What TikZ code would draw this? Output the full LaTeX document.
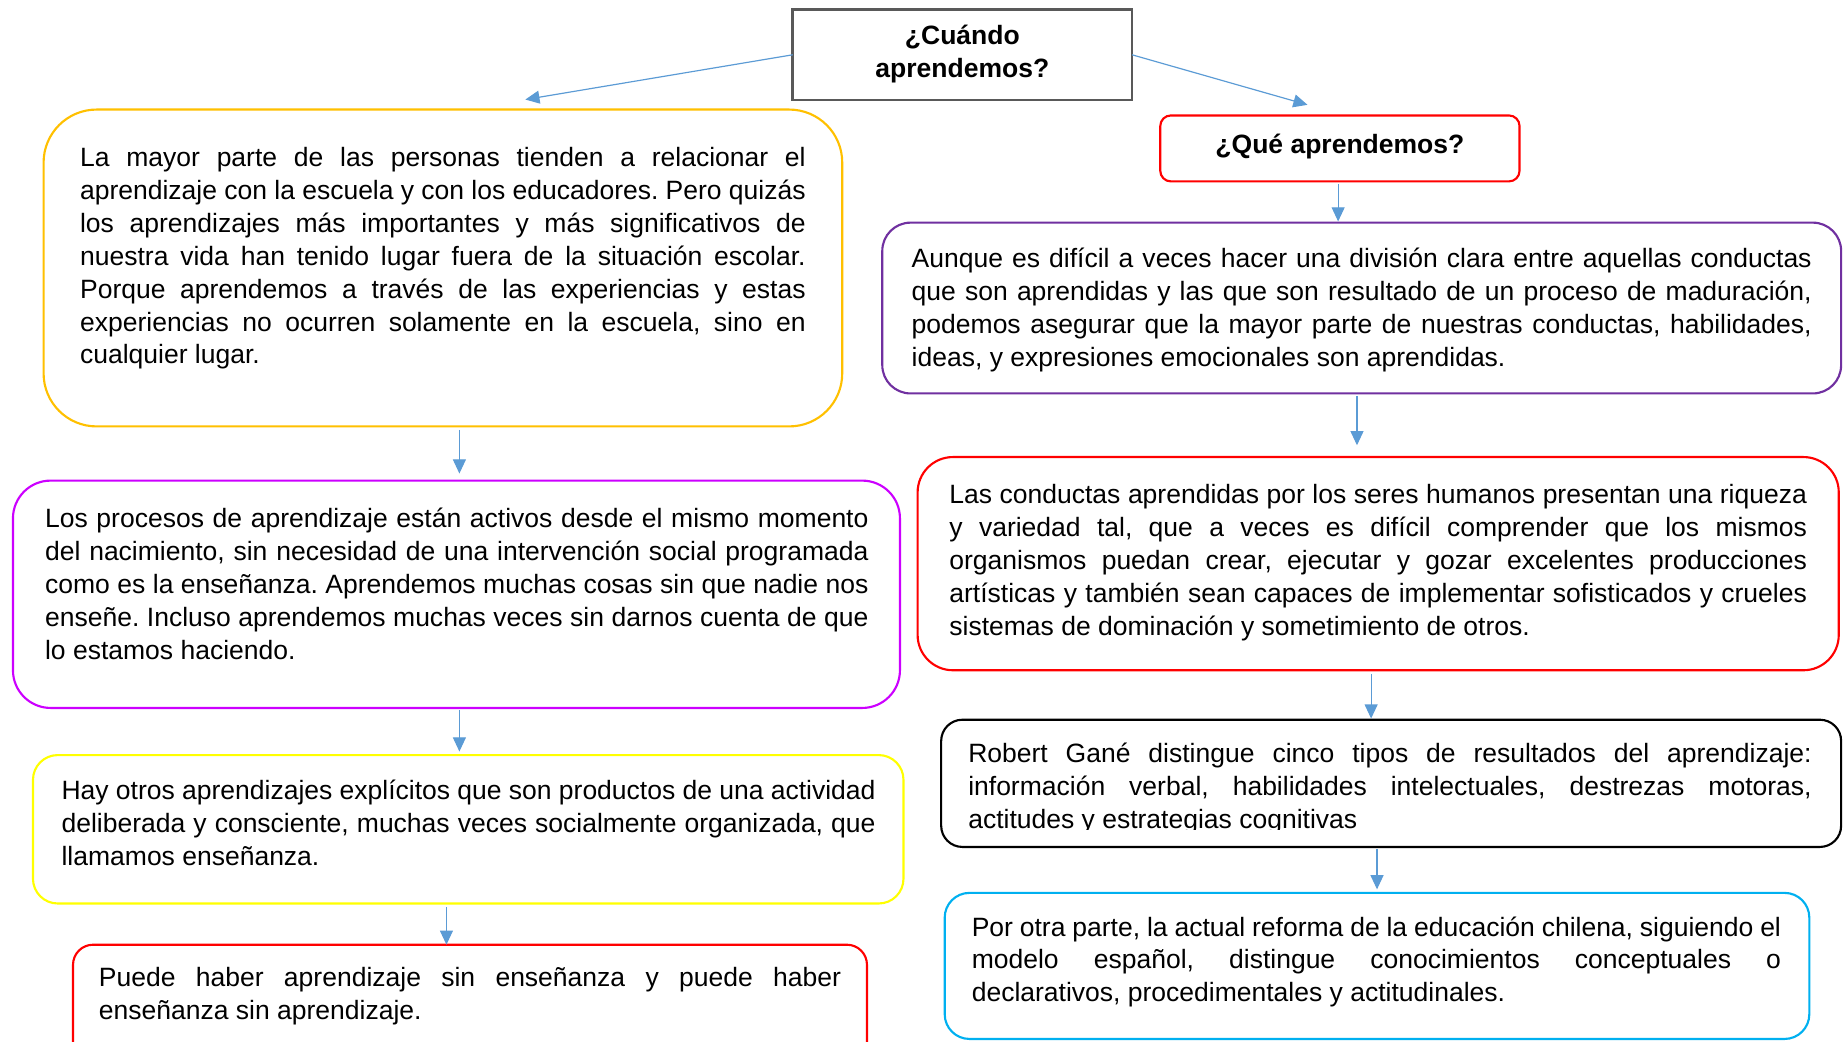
\documentclass[tikz,border=0pt]{standalone}
\usepackage{fontspec}
\setmainfont{Liberation Sans}
\usetikzlibrary{arrows.meta}
\definecolor{cgold}{HTML}{FFC000}
\definecolor{cmag}{HTML}{CC00FF}
\definecolor{cyel}{HTML}{FFFF00}
\definecolor{cred}{HTML}{FF0000}
\definecolor{cpur}{HTML}{7030A0}
\definecolor{ccyan}{HTML}{00B0F0}
\definecolor{cgray}{HTML}{595959}
\definecolor{arrowblue}{HTML}{5B9BD5}
\tolerance=10000
\pretolerance=-1
\hyphenpenalty=10000
\exhyphenpenalty=10000
\frenchspacing
\begin{document}
\begin{tikzpicture}[x=1pt,y=-1pt,
  box/.style={draw, line width=1.8pt, outer sep=0pt, inner sep=0pt},
  txt/.style={inner sep=0pt, outer sep=0pt, anchor=north west, align=justify,
              font=\frenchspacing\fontsize{22.5}{28}\selectfont},
  head/.style={inner sep=0pt, outer sep=0pt, font=\bfseries\fontsize{22.5}{28}\selectfont},
  arr/.style={draw=arrowblue, line width=1pt, -{Triangle[length=12pt,width=11pt]}}]
\clip (0,0) rectangle (1568,884);
\fill[white] (0,0) rectangle (1568,884);

% boxes
\node[box, draw=cgray, line width=2.2pt, minimum width=288pt, minimum height=77pt] (T) at (817,46.5) {};
\node[box, draw=cgold, rounded corners=45pt, minimum width=678pt, minimum height=269pt] (A) at (376,227.5) {};
\node[box, draw=cmag, rounded corners=32pt, minimum width=753pt, minimum height=193pt] (B) at (387.5,504.5) {};
\node[box, draw=cyel, rounded corners=21pt, minimum width=739pt, minimum height=126pt] (C) at (397.5,704) {};
\node[box, draw=cred, rounded corners=17pt, minimum width=674pt, minimum height=103pt] (D) at (399,853.5) {};
\node[box, draw=cred, rounded corners=9pt, minimum width=305pt, minimum height=56pt] (Q) at (1137.5,126) {};
\node[box, draw=cpur, rounded corners=24pt, minimum width=814pt, minimum height=145pt] (E) at (1156,261.5) {};
\node[box, draw=cred, rounded corners=30pt, minimum width=782pt, minimum height=181pt] (F) at (1170,478.5) {};
\node[box, draw=black, rounded corners=18pt, minimum width=764pt, minimum height=108pt] (G) at (1181,665) {};
\node[box, draw=ccyan, rounded corners=21pt, minimum width=734pt, minimum height=124pt] (H) at (1169,820) {};

% headings
\node[head, anchor=north, align=center] (Tt) at (817,18.4) {\strut ¿Cuándo\\aprendemos?};
\node[head, anchor=base] (Qt) at (1137.5,130.5) {¿Qué aprendemos?};

% texts
\node[txt, text width=616pt] (At) at (68,121.4) {\strut La mayor parte de las personas tienden a relacionar el\linebreak
aprendizaje con la escuela y con los educadores. Pero quizás\linebreak
los aprendizajes más importantes y más significativos de\linebreak
nuestra vida han tenido lugar fuera de la situación escolar.\linebreak
Porque aprendemos a través de las experiencias y estas\linebreak
experiencias no ocurren solamente en la escuela, sino en\linebreak
cualquier lugar.};

\node[txt, text width=699pt] (Bt) at (38.3,428) {\strut Los procesos de aprendizaje están activos desde el mismo momento\linebreak
del nacimiento, sin necesidad de una intervención social programada\linebreak
como es la enseñanza. Aprendemos muchas cosas sin que nadie nos\linebreak
enseñe. Incluso aprendemos muchas veces sin darnos cuenta de que\linebreak
lo estamos haciendo.};

\node[txt, text width=691pt] (Ct) at (52.3,659.4) {\strut Hay otros aprendizajes explícitos que son productos de una actividad\linebreak
deliberada y consciente, muchas veces socialmente organizada, que\linebreak
llamamos enseñanza.};

\node[txt, text width=630pt] (Dt) at (84,818) {\strut Puede haber aprendizaje sin enseñanza y puede haber\linebreak
enseñanza sin aprendizaje.};

\node[txt, text width=764pt] (Et) at (774,207.5) {\strut Aunque es difícil a veces hacer una división clara entre aquellas conductas\linebreak
que son aprendidas y las que son resultado de un proceso de maduración,\linebreak
podemos asegurar que la mayor parte de nuestras conductas, habilidades,\linebreak
ideas, y expresiones emocionales son aprendidas.};

\node[txt, text width=728pt] (Ft) at (806,408.2) {\strut Las conductas aprendidas por los seres humanos presentan una riqueza\linebreak
y variedad tal, que a veces es difícil comprender que los mismos\linebreak
organismos puedan crear, ejecutar y gozar excelentes producciones\linebreak
artísticas y también sean capaces de implementar sofisticados y crueles\linebreak
sistemas de dominación y sometimiento de otros.};

\begin{scope}
\clip (790,600) rectangle (1568,704);
\node[txt, text width=716pt] (Gt) at (822,627.5) {\strut Robert Gané distingue cinco tipos de resultados del aprendizaje:\linebreak
información verbal, habilidades intelectuales, destrezas motoras,\linebreak
actitudes y estrategias cognitivas};
\end{scope}

\node[txt, text width=687pt] (Ht) at (825,775) {\strut Por otra parte, la actual reforma de la educación chilena, siguiendo el\linebreak
modelo español, distingue conocimientos conceptuales o\linebreak
declarativos, procedimentales y actitudinales.};

% connectors
\coordinate (tipL) at (446,84.5);
\coordinate (tipR) at (1110,89);
\draw[arr] (T.west) -- (tipL);
\draw[arr] (T.east) -- (tipR);

\coordinate (xab) at (390,0);
\coordinate (xcd) at (379,0);
\coordinate (xqe) at (1136,0);
\coordinate (xef) at (1152,0);
\coordinate (xfg) at (1164,0);
\coordinate (xgh) at (1169,0);

\draw[arr, shorten <=3pt, shorten >=6pt] (A.south -| xab) -- (B.north -| xab);
\draw[arr, shorten <=2pt, shorten >=3pt] (B.south -| xab) -- (C.north -| xab);
\draw[arr, shorten <=3pt] (C.south -| xcd) -- (D.north -| xcd);
\draw[arr, shorten <=2pt, shorten >=1pt] (Q.south -| xqe) -- (E.north -| xqe);
\draw[arr, shorten <=2pt, shorten >=10pt] (E.south -| xef) -- (F.north -| xef);
\draw[arr, shorten <=3pt, shorten >=1pt] (F.south -| xfg) -- (G.north -| xfg);
\draw[arr, shorten <=2pt, shorten >=3pt] (G.south -| xgh) -- (H.north -| xgh);
\end{tikzpicture}
\end{document}
